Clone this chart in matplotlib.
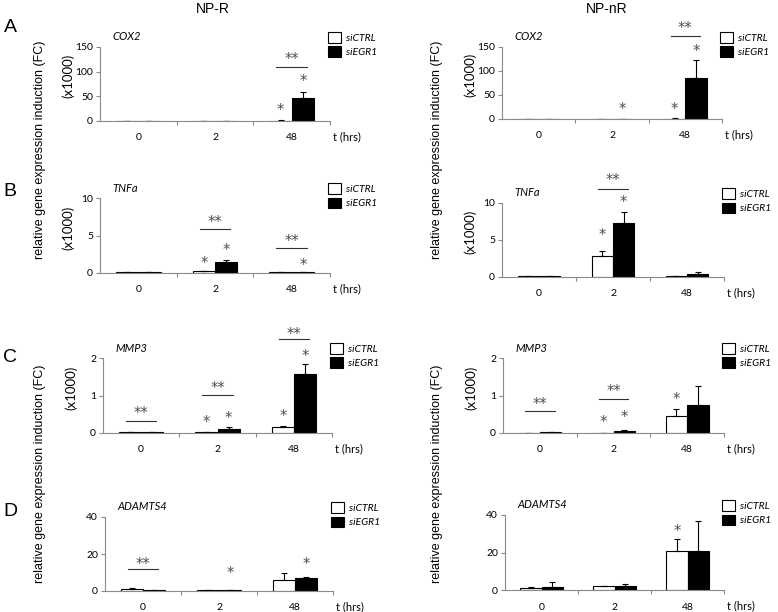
import matplotlib
matplotlib.use("Agg")
import matplotlib.pyplot as plt
from matplotlib import transforms
from matplotlib.patches import Patch
import numpy as np

plt.rcParams["font.family"] = ["Lato", "DejaVu Sans"]

W, H = 778, 612

TIMES = ["0", "2", "48"]
GROUPS = ["siCTRL", "siEGR1"]
CONDITIONS = ["NP-R", "NP-nR"]
GENES = ["COX2", "TNFa", "MMP3", "ADAMTS4"]
PANEL_LETTERS = ["A", "B", "C", "D"]

# y-axis ranges per gene (max, step)
Y_MAX = [150, 10, 2, 40]
Y_STEP = [50, 5, 1, 20]
SCALED = [True, True, True, False]  # shows "(x1000)"

# values; NP-R then NP-nR
COX2_R_CTRL = [0.5, 0.5, 1.0]
COX2_R_CTRL_ERR = [0.0, 0.0, 0.3]
COX2_R_EGR1 = [0.5, 0.5, 47.0]
COX2_R_EGR1_ERR = [0.0, 0.0, 11.0]
COX2_NR_CTRL = [1.0, 1.0, 1.0]
COX2_NR_CTRL_ERR = [0.0, 0.0, 0.2]
COX2_NR_EGR1 = [1.0, 1.0, 86.0]
COX2_NR_EGR1_ERR = [0.0, 0.0, 37.0]

TNF_R_CTRL = [0.1, 0.25, 0.1]
TNF_R_CTRL_ERR = [0.0, 0.05, 0.0]
TNF_R_EGR1 = [0.1, 1.5, 0.1]
TNF_R_EGR1_ERR = [0.0, 0.3, 0.0]
TNF_NR_CTRL = [0.1, 2.8, 0.1]
TNF_NR_CTRL_ERR = [0.0, 0.7, 0.0]
TNF_NR_EGR1 = [0.1, 7.25, 0.4]
TNF_NR_EGR1_ERR = [0.0, 1.6, 0.3]

MMP3_R_CTRL = [0.02, 0.02, 0.16]
MMP3_R_CTRL_ERR = [0.0, 0.0, 0.02]
MMP3_R_EGR1 = [0.02, 0.12, 1.58]
MMP3_R_EGR1_ERR = [0.0, 0.05, 0.26]
MMP3_NR_CTRL = [0.0, 0.01, 0.45]
MMP3_NR_CTRL_ERR = [0.0, 0.0, 0.2]
MMP3_NR_EGR1 = [0.02, 0.05, 0.74]
MMP3_NR_EGR1_ERR = [0.0, 0.02, 0.51]

ADAM_R_CTRL = [0.9, 0.4, 5.9]
ADAM_R_CTRL_ERR = [0.5, 0.2, 4.0]
ADAM_R_EGR1 = [0.4, 0.5, 6.8]
ADAM_R_EGR1_ERR = [0.1, 0.3, 0.6]
ADAM_NR_CTRL = [1.0, 2.0, 20.8]
ADAM_NR_CTRL_ERR = [0.4, 0.4, 6.2]
ADAM_NR_EGR1 = [1.5, 2.0, 20.8]
ADAM_NR_EGR1_ERR = [2.6, 1.0, 16.0]

# significance: single star (time, group, height), pair "**" (time, line height, text height)
COX2_R_STARS = [(2, 0, 30), (2, 1, 90)]
COX2_R_PAIRS = [(2, 110, 133)]
COX2_NR_STARS = [(1, 1, 30), (2, 0, 30), (2, 1, 150)]
COX2_NR_PAIRS = [(2, 173, 198)]
TNF_R_STARS = [(1, 0, 1.9), (1, 1, 3.6), (2, 1, 1.6)]
TNF_R_PAIRS = [(1, 5.9, 7.3), (2, 3.4, 4.8)]
TNF_NR_STARS = [(1, 0, 6.2), (1, 1, 10.7)]
TNF_NR_PAIRS = [(1, 11.9, 13.6)]
MMP3_R_STARS = [(1, 0, 0.39), (1, 1, 0.52), (2, 0, 0.55), (2, 1, 2.15)]
MMP3_R_PAIRS = [(0, 0.32, 0.63), (1, 1.01, 1.3), (2, 2.5, 2.74)]
MMP3_NR_STARS = [(1, 0, 0.39), (1, 1, 0.54), (2, 0, 1.01)]
MMP3_NR_PAIRS = [(0, 0.58, 0.88), (1, 0.9, 1.22)]
ADAM_R_STARS = [(1, 1, 12.2), (2, 1, 16.7)]
ADAM_R_PAIRS = [(0, 11.7, 16.7)]
ADAM_NR_STARS = [(2, 0, 33.4)]
ADAM_NR_PAIRS = []

PANELS = [
    [(COX2_R_CTRL, COX2_R_CTRL_ERR, COX2_R_EGR1, COX2_R_EGR1_ERR, COX2_R_STARS, COX2_R_PAIRS),
     (COX2_NR_CTRL, COX2_NR_CTRL_ERR, COX2_NR_EGR1, COX2_NR_EGR1_ERR, COX2_NR_STARS, COX2_NR_PAIRS)],
    [(TNF_R_CTRL, TNF_R_CTRL_ERR, TNF_R_EGR1, TNF_R_EGR1_ERR, TNF_R_STARS, TNF_R_PAIRS),
     (TNF_NR_CTRL, TNF_NR_CTRL_ERR, TNF_NR_EGR1, TNF_NR_EGR1_ERR, TNF_NR_STARS, TNF_NR_PAIRS)],
    [(MMP3_R_CTRL, MMP3_R_CTRL_ERR, MMP3_R_EGR1, MMP3_R_EGR1_ERR, MMP3_R_STARS, MMP3_R_PAIRS),
     (MMP3_NR_CTRL, MMP3_NR_CTRL_ERR, MMP3_NR_EGR1, MMP3_NR_EGR1_ERR, MMP3_NR_STARS, MMP3_NR_PAIRS)],
    [(ADAM_R_CTRL, ADAM_R_CTRL_ERR, ADAM_R_EGR1, ADAM_R_EGR1_ERR, ADAM_R_STARS, ADAM_R_PAIRS),
     (ADAM_NR_CTRL, ADAM_NR_CTRL_ERR, ADAM_NR_EGR1, ADAM_NR_EGR1_ERR, ADAM_NR_STARS, ADAM_NR_PAIRS)],
]

# plot boxes in pixels: (left, top, right, bottom)
BOXES = [
    [(100, 47, 330, 121), (502, 47, 722, 119)],
    [(100, 198, 330, 273), (502, 203, 724, 277)],
    [(103, 358, 332, 433), (503, 358, 724, 433)],
    [(105, 517, 333, 591), (505, 515, 724, 590)],
]

AXIS_GRAY = "#8a8a8a"
STAR_COLOR = "0.3"
STAR_FONT = ["DejaVu Sans"]
BAR_W = 0.29


def fx(px):
    return px / W


def fy(py):
    return 1 - py / H


def draw_panel(fig, box, data, row):
    l, t, r, b = box
    ax = fig.add_axes([fx(l), fy(b), fx(r - l), (b - t) / H])
    ctrl, ctrl_err, egr, egr_err, stars, pairs = data
    x = np.arange(len(TIMES))
    zeros = np.zeros(len(TIMES))
    ekw = dict(ecolor="black", elinewidth=0.8, capsize=2.5, capthick=0.8)
    ax.bar(x - BAR_W / 2, ctrl, BAR_W, color="white", edgecolor="black", linewidth=0.8,
           yerr=[zeros, ctrl_err], error_kw=ekw, zorder=2)
    ax.bar(x + BAR_W / 2, egr, BAR_W, color="black", edgecolor="black", linewidth=0.8,
           yerr=[zeros, egr_err], error_kw=ekw, zorder=2)

    ax.set_xlim(-0.5, len(TIMES) - 0.5)
    ax.set_ylim(0, Y_MAX[row])
    ax.set_yticks(np.arange(0, Y_MAX[row] + 0.001, Y_STEP[row]))
    ax.set_xticks(x)
    ax.set_xticklabels(TIMES)
    ax.set_xticks(np.arange(0.5, len(TIMES)), minor=True)
    for s in ["top", "right"]:
        ax.spines[s].set_visible(False)
    for s in ["left", "bottom"]:
        ax.spines[s].set_color(AXIS_GRAY)
        ax.spines[s].set_linewidth(0.8)
    ax.tick_params(axis="x", which="major", length=0, pad=9, labelsize=7.5)
    ax.tick_params(axis="x", which="minor", length=3, color=AXIS_GRAY, width=0.8)
    ax.tick_params(axis="y", length=3, color=AXIS_GRAY, width=0.8, pad=2, labelsize=7.5)
    ax.patch.set_alpha(0)

    # asterisk glyphs sit high in the text box, pull them down so the glyph is centred
    star_tr = transforms.offset_copy(ax.transData, fig=fig, y=-3.3, units="points")
    for ti, gi, h in stars:
        off = -BAR_W / 2 if gi == 0 else BAR_W / 2
        ax.text(ti + off, h, "*", ha="center", va="center", fontsize=10.5,
                color=STAR_COLOR, family=STAR_FONT, transform=star_tr, clip_on=False)
    for ti, lh, th in pairs:
        ax.plot([ti - 0.2, ti + 0.2], [lh, lh], color="0.2", lw=0.8, clip_on=False)
        ax.text(ti, th, "**", ha="center", va="center", fontsize=10.5,
                color=STAR_COLOR, family=STAR_FONT, transform=star_tr, clip_on=False)

    # gene label
    ax.text(fx(l + 12), fy(t - 10), GENES[row], transform=fig.transFigure,
            ha="left", va="center", fontsize=8, style="italic")
    # time unit
    ax.text(fx(r + 3), fy(b + 16), "t (hrs)", transform=fig.transFigure,
            ha="left", va="center", fontsize=8)
    # legend
    handles = [Patch(facecolor="white", edgecolor="black", linewidth=0.8),
               Patch(facecolor="black", edgecolor="black", linewidth=0.8)]
    ax.legend(handles, GROUPS, loc="upper left",
              bbox_to_anchor=(fx(r - 2), fy(t - 15)), bbox_transform=fig.transFigure,
              frameon=False, borderpad=0, borderaxespad=0, handlelength=1.2,
              handleheight=1.2, handletextpad=0.5, labelspacing=0.35,
              prop={"style": "italic", "size": 7.5})
    return ax


fig = plt.figure(figsize=(W / 100, H / 100), dpi=100)

for row in range(4):
    for col in range(2):
        draw_panel(fig, BOXES[row][col], PANELS[row][col], row)
        l, t, r, b = BOXES[row][col]
        if SCALED[row]:
            fig.text(fx(l - 32), fy((t + b) / 2 - 8), "(x1000)", rotation=90,
                     ha="center", va="center", fontsize=9.5)

# row letters
for py, letter in zip([27, 192, 357, 512], PANEL_LETTERS):
    fig.text(fx(10), fy(py), letter, ha="center", va="center", fontsize=14,
             family="Liberation Sans")

# column titles
for px, title in zip([213, 607], CONDITIONS):
    fig.text(fx(px), fy(9), title, ha="center", va="center", fontsize=10,
             family="Liberation Sans")

# shared y labels (one per pair of rows)
YLABEL = "relative gene expression induction (FC)"
for px in [40, 437]:
    for py in [150, 474]:
        fig.text(fx(px), fy(py), YLABEL, rotation=90, ha="center", va="center",
                 fontsize=9, family="Liberation Sans")

fig.savefig("out.png", dpi=100)
